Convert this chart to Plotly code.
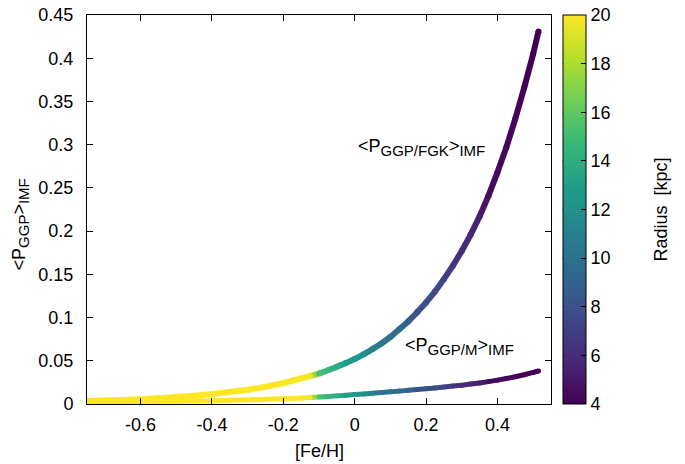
import plotly.graph_objects as go
from plotly.colors import sample_colorscale

# [Fe/H] sample points
feh = [-0.75, -0.70, -0.65, -0.60, -0.55, -0.50, -0.45, -0.40, -0.35, -0.30, -0.25, -0.20,
       -0.150, -0.125, -0.100, -0.075, -0.050, -0.025, 0.000, 0.025, 0.050, 0.075, 0.100,
       0.125, 0.150, 0.175, 0.200, 0.225, 0.250, 0.275, 0.300, 0.325, 0.350, 0.375, 0.400,
       0.425, 0.450, 0.475, 0.500, 0.515]
# <P_GGP/FGK>_IMF
p_fgk = [0.0035, 0.0040, 0.0047, 0.0056, 0.0067, 0.0080, 0.0095, 0.0115, 0.0138, 0.0165, 0.0198, 0.0243,
         0.0295, 0.0322, 0.0352, 0.0390, 0.0430, 0.0473, 0.0520, 0.0575, 0.0635, 0.0700, 0.0775,
         0.0865, 0.0955, 0.1060, 0.1175, 0.1300, 0.1445, 0.1600, 0.1770, 0.1960, 0.2170, 0.2410, 0.2680,
         0.2970, 0.3300, 0.3660, 0.4050, 0.4310]
# <P_GGP/M>_IMF
p_m = [0.0023, 0.0025, 0.0027, 0.0029, 0.0031, 0.0033, 0.0036, 0.0039, 0.0043, 0.0048, 0.0054, 0.0061,
       0.0069, 0.0074, 0.0080, 0.0087, 0.0094, 0.0102, 0.0110, 0.0117, 0.0125, 0.0133, 0.0141,
       0.0149, 0.0158, 0.0167, 0.0176, 0.0186, 0.0196, 0.0207, 0.0218, 0.0231, 0.0244, 0.0259, 0.0276,
       0.0295, 0.0315, 0.0338, 0.0365, 0.0382]
# Galactocentric radius [kpc] at each point
radius = [20.0, 20.0, 20.0, 20.0, 20.0, 20.0, 20.0, 20.0, 20.0, 20.0, 20.0, 20.0,
          20.0, 19.8, 15.5, 14.5, 14.0, 12.8, 12.5, 12.2, 11.0, 10.2, 10.0,
          9.6, 8.8, 8.1, 8.0, 7.8, 7.4, 6.5, 6.1, 5.8, 5.3, 4.5, 4.4,
          4.3, 4.2, 4.1, 4.0, 4.0]

xtick_vals = [-0.6, -0.4, -0.2, 0, 0.2, 0.4]
xtick_text = ["-0.6", "-0.4", "-0.2", "0", "0.2", "0.4"]
ytick_vals = [0, 0.05, 0.1, 0.15, 0.2, 0.25, 0.3, 0.35, 0.4, 0.45]
ytick_text = ["0", "0.05", "0.1", "0.15", "0.2", "0.25", "0.3", "0.35", "0.4", "0.45"]
cb_vals = [4, 6, 8, 10, 12, 14, 16, 18, 20]

RMIN, RMAX = 4, 20
FONT = "Liberation Sans, Arial, sans-serif"
FS = 18
CB_X = 1.025
PLOT_W = 677 - 79 - 134

fig = go.Figure()


def add_curve(ys, width):
    for i in range(len(feh) - 1):
        r = 0.5 * (radius[i] + radius[i + 1])
        c = sample_colorscale("Viridis", [(r - RMIN) / (RMAX - RMIN)])[0]
        fig.add_trace(go.Scatter(
            x=[feh[i], feh[i + 1]], y=[ys[i], ys[i + 1]], mode="lines",
            line=dict(color=c, width=width), showlegend=False, hoverinfo="skip"))
    # round joints
    fig.add_trace(go.Scatter(
        x=feh, y=ys, mode="markers", showlegend=False, hoverinfo="skip",
        marker=dict(size=width, color=radius, cmin=RMIN, cmax=RMAX, colorscale="Viridis",
                    line=dict(width=0))))


add_curve(p_m, 5)
add_curve(p_fgk, 6)

# colorbar carrier
fig.add_trace(go.Scatter(
    x=[None], y=[None], mode="markers", showlegend=False,
    marker=dict(color=[RMIN], cmin=RMIN, cmax=RMAX, colorscale="Viridis", showscale=True,
                colorbar=dict(
                    x=CB_X, xanchor="left", y=0.5, yanchor="middle", len=1.0, lenmode="fraction",
                    thickness=23, outlinewidth=1, outlinecolor="black",
                    ticks="inside", ticklen=5, tickcolor="black", tickwidth=1,
                    tickvals=cb_vals, ticktext=[str(v) for v in cb_vals],
                    tickfont=dict(size=FS, color="black", family=FONT),
                    tickprefix="   ", ticklabeloverflow="allow",
                    xpad=0, ypad=0,
                ))))

# mirrored colorbar ticks on the left edge of the bar
for v in cb_vals[1:-1]:
    yy = (v - RMIN) / (RMAX - RMIN)
    fig.add_shape(type="line", xref="paper", yref="paper",
                  x0=CB_X, x1=CB_X + 5 / PLOT_W, y0=yy, y1=yy,
                  line=dict(color="black", width=1))

SUB = "<sub><span style='font-size:15px'>{}</span></sub>"
fig.add_annotation(x=0.188, y=0.297, xref="x", yref="y", showarrow=False,
                   text="&lt;P" + SUB.format("GGP/FGK") + "&gt;" + SUB.format("IMF"),
                   font=dict(size=FS, color="black", family=FONT))
fig.add_annotation(x=0.294, y=0.066, xref="x", yref="y", showarrow=False,
                   text="&lt;P" + SUB.format("GGP/M") + "&gt;" + SUB.format("IMF"),
                   font=dict(size=FS, color="black", family=FONT))

# axis titles and colorbar title
fig.add_annotation(x=-0.144, y=0.462, xref="paper", yref="paper", showarrow=False,
                   textangle=-90, xanchor="center", yanchor="middle",
                   text="&lt;P" + SUB.format("GGP") + "&gt;" + SUB.format("IMF"),
                   font=dict(size=FS, color="black", family=FONT))
fig.add_annotation(x=0.5, y=-0.121, xref="paper", yref="paper", showarrow=False,
                   xanchor="center", yanchor="middle", text="[Fe/H]",
                   font=dict(size=FS, color="black", family=FONT))
fig.add_annotation(x=1.235, y=0.5, xref="paper", yref="paper", showarrow=False,
                   textangle=-90, xanchor="center", yanchor="middle", text="Radius  [kpc]",
                   font=dict(size=FS, color="black", family=FONT))

axis_common = dict(showline=True, linecolor="black", linewidth=1, mirror="ticks",
                   ticks="inside", ticklen=6, tickcolor="black", showgrid=False, zeroline=False,
                   automargin=False, ticklabeloverflow="allow",
                   tickfont=dict(size=FS, color="black", family=FONT))

fig.update_layout(
    width=677, height=456,
    margin=dict(l=79, r=134, t=7, b=60, autoexpand=False),
    paper_bgcolor="white", plot_bgcolor="white",
    font=dict(family=FONT, color="black"),
    xaxis=dict(range=[-0.75, 0.55], tickvals=xtick_vals, ticktext=xtick_text,
               ticklabelstandoff=4, **axis_common),
    yaxis=dict(range=[0, 0.45], tickvals=ytick_vals, ticktext=ytick_text,
               ticklabelstandoff=9, **axis_common),
)

fig.write_html("out.html")
